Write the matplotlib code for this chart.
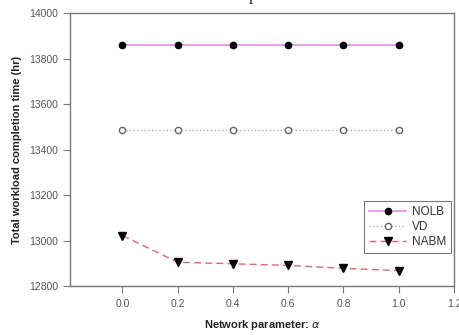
import matplotlib
matplotlib.use("Agg")
import matplotlib.pyplot as plt

# Network parameter alpha
alpha = [0.0, 0.2, 0.4, 0.6, 0.8, 1.0]

# Total workload completion time (hr)
nolb = [13858, 13858, 13858, 13858, 13858, 13858]
vd = [13487, 13487, 13487, 13487, 13487, 13487]
nabm = [13022, 12905, 12898, 12891, 12878, 12868]

xticks = [0.0, 0.2, 0.4, 0.6, 0.8, 1.0, 1.2]
yticks = [12800, 13000, 13200, 13400, 13600, 13800, 14000]

plt.rcParams['font.family'] = ['Liberation Sans', 'DejaVu Sans']

fig = plt.figure(figsize=(4.6, 3.35), dpi=100)
ax = fig.add_axes([0.152, 0.146, 0.835, 0.815])

ax.plot(alpha, nolb, color='#e58ee5', linewidth=1.2, marker='o',
        markersize=4.5, markerfacecolor='black', markeredgecolor='black', label='NOLB')
ax.plot(alpha, vd, color='#a8a0e8', linewidth=1.0, linestyle=':', marker='o',
        markersize=4.5, markerfacecolor='white', markeredgecolor='#666666',
        markeredgewidth=1.0, label='VD')
ax.plot(alpha, nabm, color='#e06868', linewidth=1.0, linestyle=(0, (5, 3)), marker='v',
        markersize=5.5, markerfacecolor='black', markeredgecolor='black', label='NABM')

ax.set_xlim(-0.19, 1.2)
ax.set_ylim(12800, 14000)
ax.set_xticks(xticks)
ax.set_xticklabels([f'{t:.1f}' for t in xticks])
ax.set_yticks(yticks)

for s in ax.spines.values():
    s.set_color('#777777')
    s.set_linewidth(1.0)
ax.tick_params(colors='#777777', labelcolor='#555555', labelsize=7.5,
               length=5, width=0.8, direction='out')
ax.tick_params(axis='x', pad=4)

ax.set_ylabel('Total workload completion time (hr)', fontsize=8, fontweight='bold',
              color='#222222', labelpad=5)
ax.set_xlabel(r'Network parameter: $\alpha$', fontsize=8, fontweight='bold',
              color='#222222', labelpad=7)

leg = ax.legend(loc='upper right', bbox_to_anchor=(0.993, 0.31), fontsize=8.5,
                frameon=True, fancybox=False, handlelength=3.2,
                borderpad=0.4, labelspacing=0.25, handletextpad=0.5,
                borderaxespad=0.0)
leg.get_frame().set_edgecolor('#555555')
leg.get_frame().set_linewidth(0.8)
for t in leg.get_texts():
    t.set_color('#333333')

# partially visible title descender at the top edge
fig.text(0.55, 1.0, 'p', fontsize=12, family='Liberation Serif', ha='center',
         va='baseline', color='#222222')

fig.savefig('out.png', dpi=100)
